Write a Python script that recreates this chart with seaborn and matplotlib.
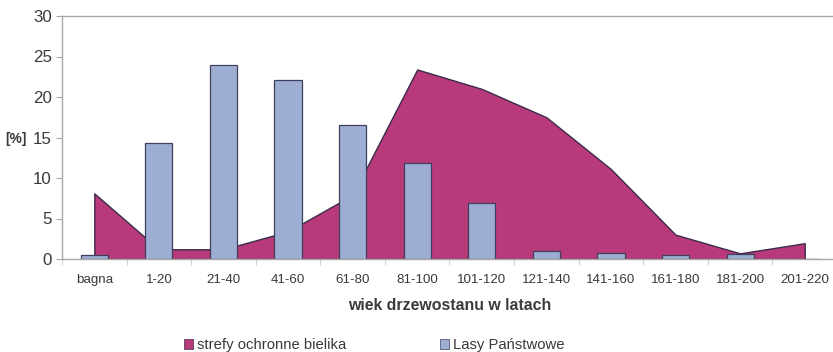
import numpy as np
import pandas as pd
import matplotlib
matplotlib.use("Agg")
import matplotlib.pyplot as plt
from matplotlib.patches import Patch
from matplotlib.ticker import FixedLocator, MultipleLocator
import seaborn as sns

# Stand age classes and share of area [%]
categories = ["bagna", "1-20", "21-40", "41-60", "61-80", "81-100", "101-120",
              "121-140", "141-160", "161-180", "181-200", "201-220"]
strefy = [8.1, 1.2, 1.2, 3.4, 7.9, 23.4, 21.0, 17.5, 11.1, 3.0, 0.7, 1.95]
lasy = [0.5, 14.3, 24.0, 22.1, 16.6, 11.8, 6.9, 0.95, 0.8, 0.55, 0.62, 0.0]

series_labels = ["strefy ochronne bielika", "Lasy Państwowe"]

AREA_COLOR = "#B93A7A"
AREA_EDGE = "#3B2B4A"
BAR_COLOR = "#9EAED3"
BAR_EDGE = "#3E3F5C"
AXIS_GRAY = "#A6A6A6"
TEXT_COLOR = "#3A3A3A"

sns.set_style("white")
plt.rcParams["font.family"] = ["Liberation Sans", "DejaVu Sans"]

df = pd.DataFrame({"wiek": categories, "strefy": strefy, "lasy": lasy})

fig = plt.figure(figsize=(8.33, 3.52), dpi=100)
ax = fig.add_axes([62 / 833, 1 - 259 / 352, 775 / 833, (259 - 16) / 352])

# area series, drawn behind the bars
xpos = np.arange(len(categories))
ax.fill_between(xpos, df["strefy"], 0, facecolor=AREA_COLOR, edgecolor=AREA_EDGE,
                linewidth=1.0, zorder=2)

# bar series
sns.barplot(data=df, x="wiek", y="lasy", order=categories, color=BAR_COLOR,
            saturation=1, width=0.42, edgecolor=BAR_EDGE, linewidth=0.9,
            ax=ax, zorder=3)

ax.set_xlim(-0.5, len(categories) - 0.5)
ax.set_ylim(0, 30)
ax.yaxis.set_major_locator(MultipleLocator(5))
ax.xaxis.set_minor_locator(FixedLocator(np.arange(-0.5, len(categories), 1.0)))

for side in ("left", "top", "bottom"):
    ax.spines[side].set_visible(True)
    ax.spines[side].set_color(AXIS_GRAY)
    ax.spines[side].set_linewidth(1.0)
ax.spines["right"].set_visible(False)
ax.spines["bottom"].set_zorder(4)

ax.tick_params(axis="y", which="major", left=True, length=4, width=0.8,
               color=AXIS_GRAY, pad=3.2, labelsize=12.2, labelcolor=TEXT_COLOR)
ax.tick_params(axis="x", which="major", bottom=False, length=0, pad=10.5,
               labelsize=9.6, labelcolor=TEXT_COLOR)
ax.tick_params(axis="x", which="minor", bottom=True, length=4, width=0.8,
               color="#D0D0D0")

ax.set_ylabel("")
ax.set_xlabel("wiek drzewostanu w latach", fontsize=11.4, fontweight="bold",
              color=TEXT_COLOR, labelpad=9)

fig.text(16 / 833, 1 - 139 / 352, "[%]", fontsize=10, fontweight="bold",
         color=TEXT_COLOR, ha="center", va="center")

handles = [Patch(facecolor=AREA_COLOR, edgecolor=AREA_EDGE, linewidth=0.5),
           Patch(facecolor=BAR_COLOR, edgecolor=BAR_EDGE, linewidth=0.5)]
fig.legend(handles, series_labels, loc="center left",
           bbox_to_anchor=(184 / 833, 1 - 345 / 352), ncol=2, frameon=False,
           fontsize=10.7, handlelength=0.62, handleheight=0.62,
           handletextpad=0.25, columnspacing=6.3, borderpad=0,
           borderaxespad=0, labelcolor=TEXT_COLOR)

fig.savefig("out.png", dpi=100)
